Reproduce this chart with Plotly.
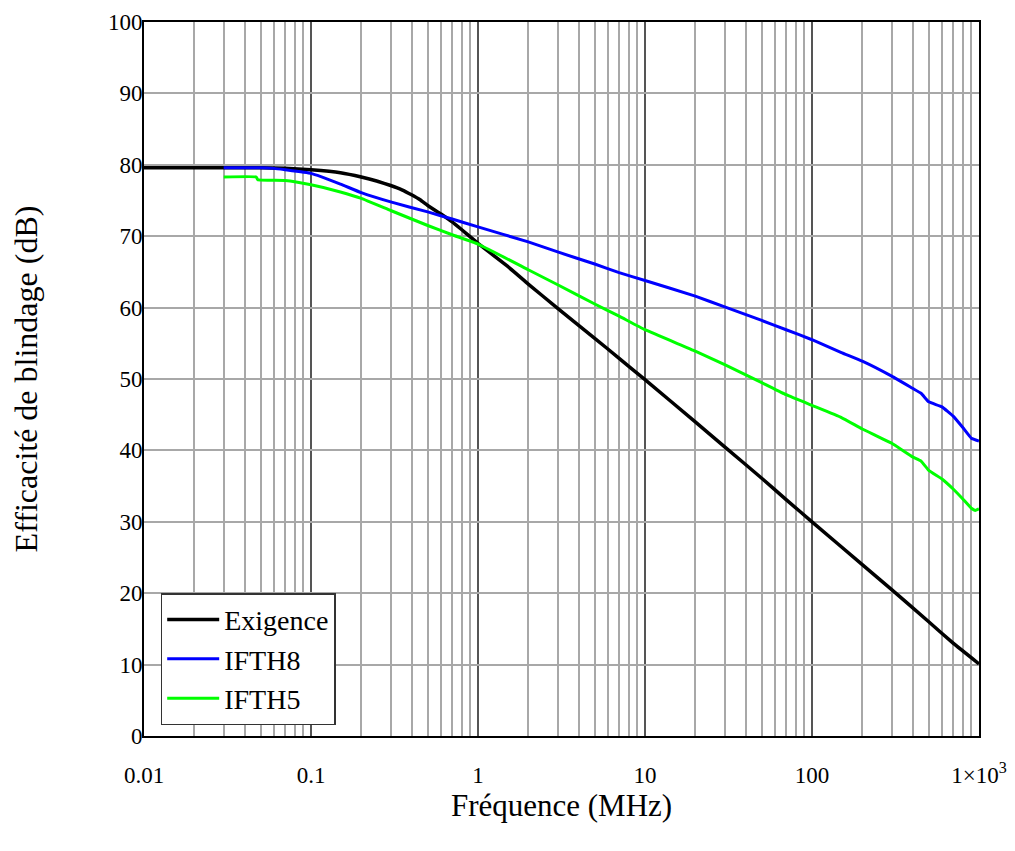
import plotly.graph_objects as go

# ---- data ----
freq_exigence = [0.01, 0.03, 0.05, 0.07, 0.1, 0.15, 0.2, 0.25, 0.3, 0.35, 0.4, 0.45, 0.5, 0.6, 0.7, 0.8, 0.9,
                 1, 1.5, 2, 3, 5, 7, 10, 20, 30, 50, 70, 100, 200, 300, 500, 700, 1000]
exigence = [79.6, 79.6, 79.6, 79.5, 79.3, 78.9, 78.3, 77.7, 77.1, 76.5, 75.8, 75.1, 74.3, 73.1, 72.0, 70.9, 69.9,
            69.0, 65.8, 63.3, 59.9, 55.7, 52.9, 49.9, 44.0, 40.5, 36.1, 33.1, 30.0, 24.0, 20.5, 16.0, 13.0, 10.1]

freq_ifth8 = [0.03, 0.04, 0.05, 0.06, 0.07, 0.1, 0.15, 0.2, 0.3, 0.5, 0.7, 1, 2, 3, 5, 7, 10,
              20, 30, 50, 70, 100, 150, 200, 300, 400, 450, 500, 600, 700, 800, 900, 1000]
ifth8 = [79.6, 79.6, 79.6, 79.5, 79.3, 78.8, 77.3, 76.1, 74.8, 73.4, 72.4, 71.3, 69.2, 67.8, 66.1, 64.9, 63.8,
         61.6, 60.1, 58.2, 56.9, 55.5, 53.7, 52.5, 50.4, 48.7, 48.0, 46.8, 46.1, 44.8, 43.2, 41.7, 41.3]

freq_ifth5 = [0.03, 0.047, 0.048, 0.07, 0.1, 0.15, 0.2, 0.3, 0.5, 0.7, 1, 2, 3, 5, 7, 10,
              20, 30, 50, 70, 100, 150, 200, 300, 400, 450, 500, 600, 700, 800, 900, 950, 1000]
ifth5 = [78.3, 78.3, 77.9, 77.8, 77.2, 76.2, 75.3, 73.6, 71.5, 70.2, 68.9, 65.3, 63.2, 60.5, 58.8, 56.9,
         53.9, 52.0, 49.5, 47.8, 46.3, 44.6, 43.0, 41.0, 39.1, 38.5, 37.2, 36.0, 34.6, 33.2, 31.9, 31.6, 31.8]

series_names = ["Exigence", "IFTH8", "IFTH5"]
series_colors = ["#000000", "#0000ff", "#00ff00"]

x_tick_vals = [0.01, 0.1, 1, 10, 100, 1000]
x_tick_text = ["0.01", "0.1", "1", "10", "100", "1×10<sup>3</sup>"]
y_tick_vals = [0, 10, 20, 30, 40, 50, 60, 70, 80, 90, 100]
minor_vals = [m * 10 ** e for e in range(-2, 3) for m in range(2, 10)]

FONT = "Liberation Serif"

fig = go.Figure()
for fx, fy, name, col, w in zip([freq_exigence, freq_ifth8, freq_ifth5],
                                [exigence, ifth8, ifth5],
                                series_names, series_colors, [3.5, 3, 3]):
    fig.add_trace(go.Scatter(x=fx, y=fy, mode="lines", name=name,
                             line=dict(color=col, width=w, shape="spline", smoothing=0.3)))

fig.update_layout(
    width=1007, height=843,
    margin=dict(l=136, r=36, t=14, b=115),
    paper_bgcolor="white", plot_bgcolor="white",
    font=dict(family=FONT, color="black", size=23),
    showlegend=True,
    legend=dict(x=0.02, y=0.2, xanchor="left", yanchor="top",
                bgcolor="white", bordercolor="#333333", borderwidth=1.5,
                font=dict(family=FONT, size=28, color="black"),
                tracegroupgap=0, itemwidth=52),
)
fig.update_xaxes(
    type="log", range=[-2, 3], automargin=False,
    tickvals=x_tick_vals, ticktext=x_tick_text,
    showgrid=True, gridcolor="#555555", gridwidth=2,
    minor=dict(tickvals=minor_vals, showgrid=True, gridcolor="#a8a8a8", gridwidth=1.5, ticks=""),
    showline=True, linecolor="black", linewidth=2, mirror=True,
    ticks="", ticklen=0, ticklabelstandoff=17,
    tickfont=dict(family=FONT, size=23),
    title=dict(text="Fréquence (MHz)", font=dict(family=FONT, size=31), standoff=6),
    zeroline=False,
)
fig.update_yaxes(
    range=[0, 100], tickvals=y_tick_vals, automargin=False,
    showgrid=True, gridcolor="#a8a8a8", gridwidth=1.5,
    showline=True, linecolor="black", linewidth=2, mirror=True,
    ticks="", ticklen=0, ticklabelstandoff=-5,
    tickfont=dict(family=FONT, size=23),
    title=dict(text="Efficacité de blindage (dB)", font=dict(family=FONT, size=32), standoff=64),
    zeroline=False,
)

fig.write_html("out.html")
